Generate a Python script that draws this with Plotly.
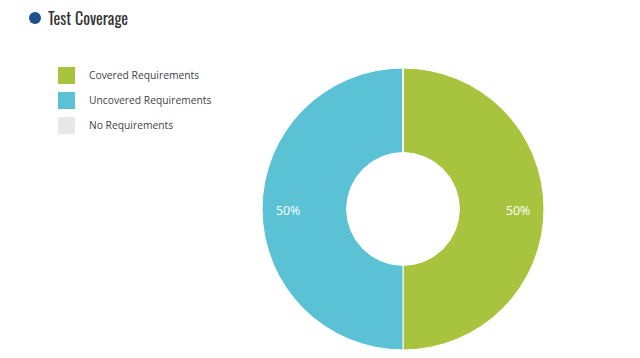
import plotly.graph_objects as go
import math

title = "Test Coverage"
labels = ["Covered Requirements", "Uncovered Requirements", "No Requirements"]
values = [50, 50, 0]
colors = ["#a8c43f", "#5bc2d6", "#e8e8e8"]

W, H = 640, 358
def px(x): return x / W
def py(y): return 1 - y / H

cx, cy, r = 403, 209, 141

fig = go.Figure(go.Pie(
    labels=labels, values=values, sort=False, direction="clockwise",
    hole=0.4, marker=dict(colors=colors, line=dict(color="white", width=1)),
    textinfo="none",
    showlegend=False, hoverinfo="label+percent",
    domain=dict(x=[px(cx - r), px(cx + r)], y=[py(cy + r), py(cy - r)]),
))

shapes = []
annotations = []
for i, (lab, col) in enumerate(zip(labels, colors)):
    y0 = 67 + 25 * i
    shapes.append(dict(type="rect", xref="paper", yref="paper",
                       x0=px(58), x1=px(75), y0=py(y0 + 17), y1=py(y0),
                       fillcolor=col, line=dict(width=0)))
    annotations.append(dict(text=lab, xref="paper", yref="paper", x=px(86.5), y=py(y0 + 8),
                            xanchor="left", yanchor="middle", showarrow=False,
                            font=dict(size=10.3, color="#444444", family="Open Sans, sans-serif")))

# percentage labels derived from data
total = sum(values)
cum = 0
lr = 115
for v in values:
    if v > 0:
        mid = (cum + v / 2) / total * 2 * math.pi
        x = cx + lr * math.sin(mid)
        y = cy - lr * math.cos(mid)
        annotations.append(dict(text=f"{v / total * 100:.0f}%", xref="paper", yref="paper",
                                x=px(x), y=py(y + 1), xanchor="center", yanchor="middle",
                                showarrow=False,
                                font=dict(size=12.3, color="white", family="Open Sans, sans-serif")))
    cum += v

shapes.append(dict(type="circle", xref="paper", yref="paper",
                   x0=px(29), x1=px(41), y0=py(24), y1=py(12),
                   fillcolor="#1d508c", line=dict(width=0)))
annotations.append(dict(text=title, xref="paper", yref="paper", x=px(46), y=py(18),
                        xanchor="left", yanchor="middle", showarrow=False,
                        font=dict(size=16, color="#333333", family="Oswald, sans-serif")))

fig.update_layout(width=W, height=H, margin=dict(l=0, r=0, t=0, b=0),
                  paper_bgcolor="white", plot_bgcolor="white",
                  shapes=shapes, annotations=annotations)
fig.write_html("out.html", config={"displayModeBar": False},
               post_script="document.body.style.margin='0';document.body.style.overflow='hidden';")
